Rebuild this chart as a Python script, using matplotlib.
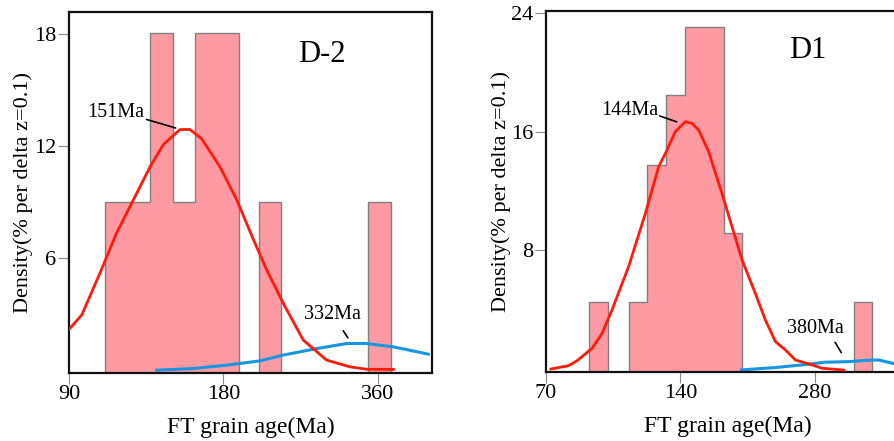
import matplotlib
matplotlib.use("Agg")
import matplotlib.pyplot as plt
from matplotlib.ticker import FixedLocator, NullLocator, FixedFormatter

plt.rcParams["font.family"] = ["Liberation Serif", "DejaVu Serif"]

# ---- D-2 data (histogram bins on a log age axis) ----
d2_edges = [106, 129.5, 143.5, 158.5, 193, 211.5, 233, 345, 381]
d2_height = [9, 18.1, 9, 18.1, 0, 9, 0, 9]
d2_red_x = [90, 95.3, 103.4, 111.4, 120.2, 129.5, 137.5, 148.1, 154.9, 163.3, 177.2,
            191, 206, 218.5, 235.5, 257.6, 286, 317.7, 342.3, 386]
d2_red_y = [2.19, 2.96, 5.2, 7.35, 9.14, 10.9, 12.1, 12.9, 12.9, 12.4, 10.9,
            9.14, 6.99, 5.38, 3.58, 1.61, 0.54, 0.18, 0.05, 0.04]
d2_blue_x = [133.4, 157.2, 182.6, 212, 235.5, 273.6, 313, 342.3, 386, 451.5]
d2_blue_y = [0.0, 0.09, 0.27, 0.5, 0.81, 1.16, 1.43, 1.43, 1.25, 0.86]
d2_xticks = [90, 180, 360]
d2_yticks = [6, 12, 18]

# ---- D1 data ----
d1_edges = [87.2, 96.4, 107.2, 117.9, 130.3, 143.6, 175, 192.5, 342.4, 376.3]
d1_height = [4.46, 0, 4.46, 13.74, 18.47, 23.09, 9.12, 0, 4.46]
d1_red_x = [71.8, 78.7, 82.1, 88.8, 93.5, 98.4, 107.2, 116.9, 125.2, 129.6, 136.4,
            143.6, 148.7, 153.9, 162, 173.5, 182.7, 192.5, 206, 217, 228.6, 240.7,
            253.4, 276, 290.7, 325]
d1_red_y = [-0.05, 0.18, 0.5, 1.35, 2.36, 3.94, 6.87, 10.47, 13.63, 14.53, 15.99,
            16.67, 16.55, 16.1, 14.64, 11.82, 9.57, 7.32, 5.07, 3.27, 1.8, 1.24,
            0.56, 0.23, 0.0, -0.12]
d1_blue_x = [191.8, 228.6, 262.2, 295.8, 333.6, 376.3, 389.4, 424.4]
d1_blue_y = [-0.11, 0.05, 0.23, 0.41, 0.45, 0.56, 0.56, 0.29]
d1_xticks = [70, 140, 280]
d1_yticks = [8, 16, 24]

BAR = "#ff9aa2"
RED = "#ff1a0a"
BLUE = "#1596e0"

fig = plt.figure(figsize=(8.95, 4.41), dpi=100)
ax1 = fig.add_axes([0.0771, 0.1542, 0.4056, 0.8186])
ax2 = fig.add_axes([0.610, 0.1565, 0.407, 0.8185])


def panel(ax, edges, height, rx, ry, bx, by, xticks, yticks, xlim, ylim, ylab_x):
    # empty bins sit on the baseline so their outline hides under the spine
    h = [v if v > 0 else ylim[0] for v in height]
    ax.stairs(h, edges, baseline=ylim[0], fill=True, color=BAR, lw=0, zorder=1)
    ax.stairs(h, edges, baseline=ylim[0], fill=False, color="#808080", lw=1.0, zorder=1.1)
    ax.plot(rx, ry, color=RED, lw=2, zorder=3)
    ax.plot(bx, by, color=BLUE, lw=2.2, zorder=2)
    ax.set_xscale("log")
    ax.set_xlim(*xlim); ax.set_ylim(*ylim)
    ax.xaxis.set_major_locator(FixedLocator(xticks))
    ax.xaxis.set_major_formatter(FixedFormatter([str(t) for t in xticks]))
    ax.xaxis.set_minor_locator(NullLocator())
    ax.set_yticks(yticks)
    ax.tick_params(axis="both", which="major", direction="out", length=8, width=0.8,
                   color="#8a8a8a", labelsize=16, pad=1)
    for s in ax.spines.values():
        s.set_linewidth(1.6); s.set_color("#111111")
    ax.set_xlabel("FT grain age(Ma)", fontsize=17, labelpad=9)
    ax.set_ylabel("Density(% per delta z=0.1)", fontsize=16)
    ax.yaxis.set_label_coords(ylab_x, 0.5)


panel(ax1, d2_edges, d2_height, d2_red_x, d2_red_y, d2_blue_x, d2_blue_y,
      d2_xticks, d2_yticks, (90, 459), (-0.15, 19.2), -0.099)
panel(ax2, d1_edges, d1_height, d1_red_x, d1_red_y, d1_blue_x, d1_blue_y,
      d1_xticks, d1_yticks, (70, 458), (-0.25, 24.15), -0.096)

ax1.text(280, 16.9, "D-2", fontsize=22, ha="center", va="center")
ax1.text(111, 13.8, "151Ma", fontsize=14.5, ha="center", va="center")
ax1.annotate("", xy=(147, 12.94), xytext=(126, 13.48),
             arrowprops=dict(arrowstyle="-", color="black", lw=1.2))
ax1.text(293.5, 2.96, "332Ma", fontsize=14.5, ha="center", va="center")
ax1.annotate("", xy=(316.8, 1.61), xytext=(306, 2.24),
             arrowprops=dict(arrowstyle="-", color="black", lw=1.2))

ax2.text(270, 21.5, "D1", fontsize=22, ha="center", va="center")
ax2.text(107.6, 17.45, "144Ma", fontsize=14.5, ha="center", va="center")
ax2.annotate("", xy=(139.2, 16.6), xytext=(124.1, 17.12),
             arrowprops=dict(arrowstyle="-", color="black", lw=1.2))
ax2.text(280.9, 2.7, "380Ma", fontsize=14.5, ha="center", va="center")
ax2.annotate("", xy=(323.4, 0.9), xytext=(308.7, 1.91),
             arrowprops=dict(arrowstyle="-", color="black", lw=1.2))

fig.savefig("out.png", dpi=100)
